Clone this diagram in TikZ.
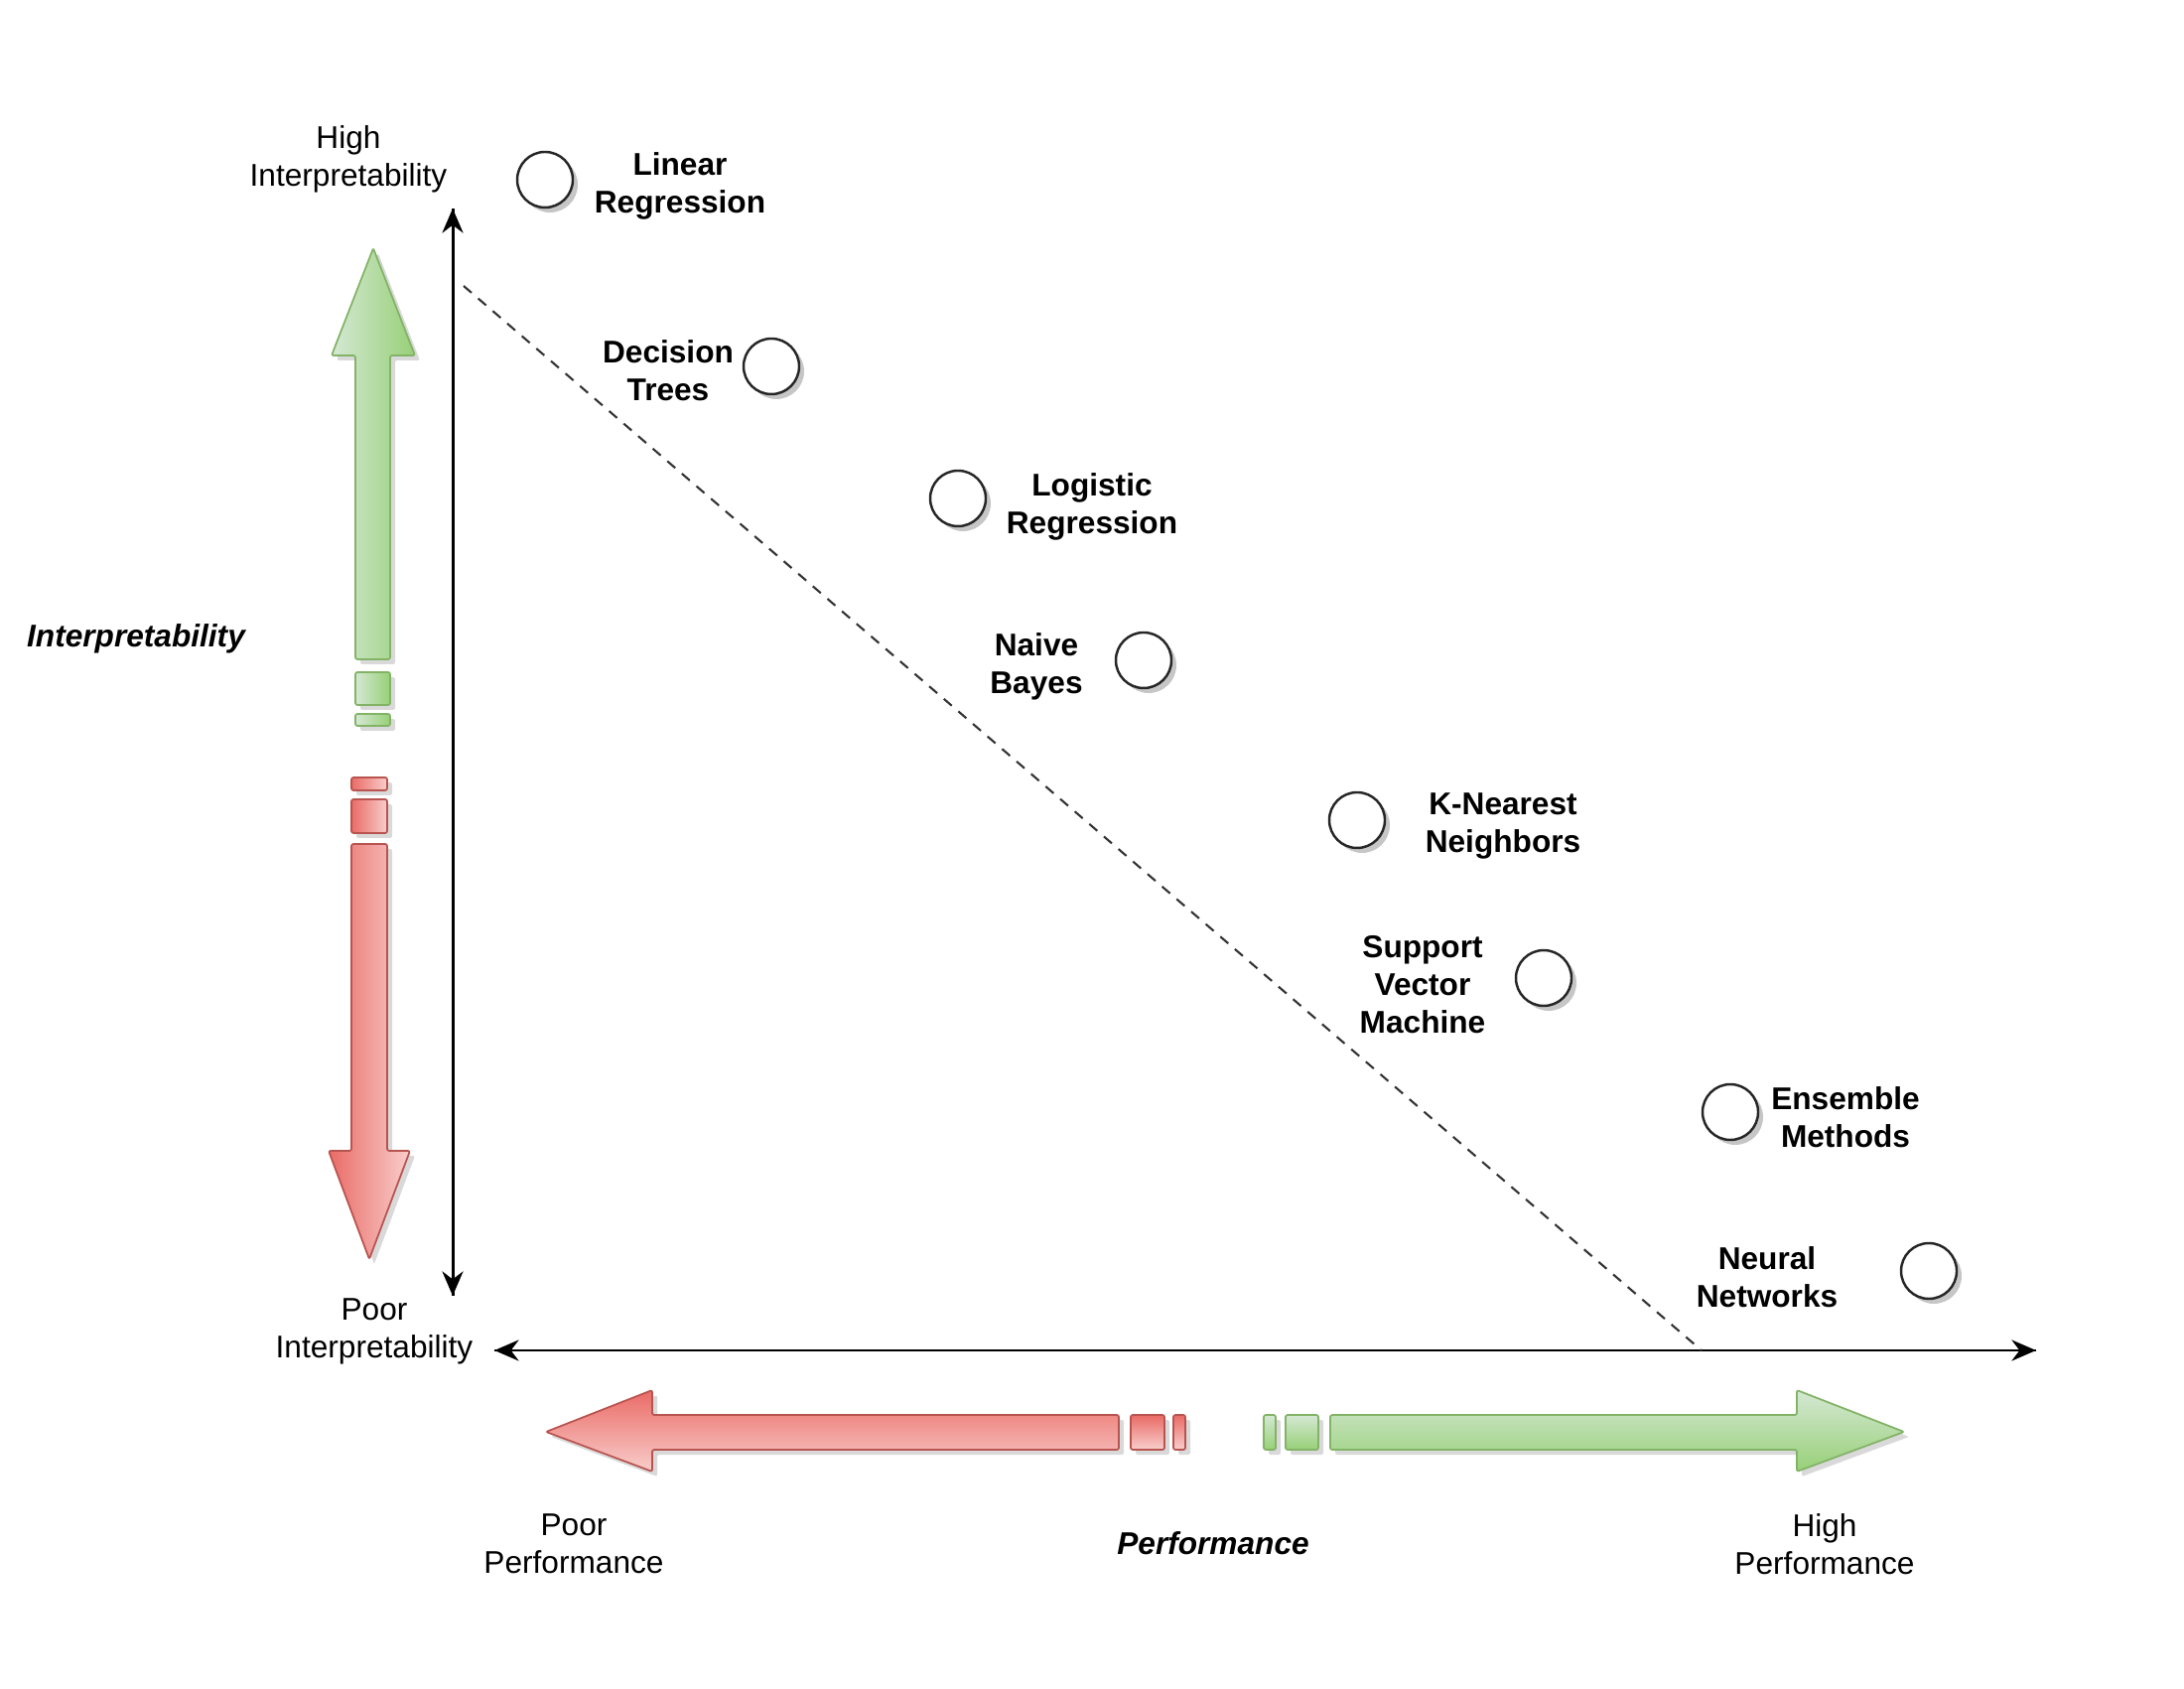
\documentclass[tikz,border=0pt]{standalone}
\usepackage{fontspec}
\setmainfont{Liberation Sans}
\usetikzlibrary{shadows,arrows.meta}

\definecolor{glight}{HTML}{D5E8D4}
\definecolor{gdark}{HTML}{97D077}
\definecolor{gline}{HTML}{82B366}
\definecolor{rlight}{HTML}{F8CECC}
\definecolor{rdark}{HTML}{EA6B66}
\definecolor{rline}{HTML}{B85450}

\begin{document}
\begin{tikzpicture}[
    font=\fontsize{9}{10.8}\selectfont,
    model/.style={circle, draw=black!85, line width=0.7pt, fill=white, minimum size=0.56cm, inner sep=0pt,
                  drop shadow={shadow xshift=0.05cm, shadow yshift=-0.05cm, opacity=0.45}},
    modeltext/.style={align=center, font=\fontsize{9}{10.8}\selectfont\bfseries},
    axislabel/.style={align=center},
    axis/.style={line width=0.85pt, -{Stealth[length=7pt, width=6pt]}},
    bigarrow/.style={line width=0.5pt, rounded corners=0.6pt,
                     drop shadow={shadow xshift=0.05cm, shadow yshift=-0.05cm, opacity=0.3}},
    greenarrow/.style={bigarrow, draw=gline},
    redarrow/.style={bigarrow, draw=rline}
  ]
    \useasboundingbox (0,0) rectangle (22,17);

    % 軸
    \coordinate (ytop) at (4.56, 14.90);
    \coordinate (ybot) at (4.56, 3.95);
    \coordinate (xleft) at (4.98, 3.40);
    \coordinate (xright) at (20.51, 3.40);
    \draw[axis] (ybot) -- (ytop);
    \draw[axis] (ytop) -- (ybot);
    \draw[axis] (xleft) -- (xright);
    \draw[axis] (xright) -- (xleft);

    % 境界線
    \coordinate (dashA) at (4.67, 14.12);
    \coordinate (dashB) at (17.14, 3.40);
    \draw[dash pattern=on 3pt off 2.5pt, line width=0.6pt, black!80] (dashA) -- (dashB);

    % 大きな矢印 (縦)
    \shade[greenarrow, left color=glight, right color=gdark]
      (3.76,14.50) -- (4.18,13.42) -- (3.93,13.42) -- (3.93,10.36) -- (3.58,10.36) -- (3.58,13.42) -- (3.34,13.42) -- cycle;
    \shade[greenarrow, left color=glight, right color=gdark] (3.58,10.23) rectangle (3.93,9.90);
    \shade[greenarrow, left color=glight, right color=gdark] (3.58,9.81) rectangle (3.93,9.69);

    \shade[redarrow, left color=rdark, right color=rlight] (3.54,9.17) rectangle (3.90,9.04);
    \shade[redarrow, left color=rdark, right color=rlight] (3.54,8.95) rectangle (3.90,8.61);
    \shade[redarrow, left color=rdark, right color=rlight]
      (3.54,8.50) -- (3.90,8.50) -- (3.90,5.41) -- (4.13,5.41) -- (3.72,4.32) -- (3.31,5.41) -- (3.54,5.41) -- cycle;

    % 大きな矢印 (横)
    \shade[redarrow, top color=rdark, bottom color=rlight]
      (5.50,2.58) -- (6.57,3.00) -- (6.57,2.75) -- (11.27,2.75) -- (11.27,2.40) -- (6.57,2.40) -- (6.57,2.18) -- cycle;
    \shade[redarrow, top color=rdark, bottom color=rlight] (11.39,2.75) rectangle (11.73,2.40);
    \shade[redarrow, top color=rdark, bottom color=rlight] (11.82,2.75) rectangle (11.94,2.40);

    \shade[greenarrow, top color=glight, bottom color=gdark] (12.73,2.75) rectangle (12.85,2.40);
    \shade[greenarrow, top color=glight, bottom color=gdark] (12.95,2.75) rectangle (13.28,2.40);
    \shade[greenarrow, top color=glight, bottom color=gdark]
      (13.40,2.75) -- (18.10,2.75) -- (18.10,3.00) -- (19.18,2.58) -- (18.10,2.18) -- (18.10,2.40) -- (13.40,2.40) -- cycle;

    % 軸ラベル
    \node[axislabel] (highint) at (3.51, 15.40) {High\\Interpretability};
    \node[axislabel] (poorint) at (3.77, 3.59) {Poor\\Interpretability};
    \node[axislabel, font=\fontsize{9}{10.8}\selectfont\bfseries\itshape] (interp) at (1.37, 10.57) {Interpretability};
    \node[axislabel] (poorperf) at (5.78, 1.45) {Poor\\Performance};
    \node[axislabel, font=\fontsize{9}{10.8}\selectfont\bfseries\itshape] (perf) at (12.22, 1.46) {Performance};
    \node[axislabel] (highperf) at (18.38, 1.45) {High\\Performance};

    % モデル
    \node[model] (linreg) at (5.49, 15.19) {};
    \node[model] (dtree) at (7.77, 13.31) {};
    \node[model] (logreg) at (9.65, 11.98) {};
    \node[model] (nbayes) at (11.52, 10.35) {};
    \node[model] (knn) at (13.67, 8.74) {};
    \node[model] (svm) at (15.55, 7.15) {};
    \node[model] (ensemble) at (17.43, 5.80) {};
    \node[model] (nnet) at (19.43, 4.20) {};

    % モデル名
    \node[modeltext] (linregtext) at (6.85, 15.13) {Linear\\Regression};
    \node[modeltext] (dtreetext) at (6.73, 13.27) {Decision\\Trees};
    \node[modeltext] (logregtext) at (11.00, 11.90) {Logistic\\Regression};
    \node[modeltext] (nbayestext) at (10.44, 10.29) {Naive\\Bayes};
    \node[modeltext] (knntext) at (15.14, 8.68) {K-Nearest\\Neighbors};
    \node[modeltext] (svmtext) at (14.33, 7.08) {Support\\Vector\\Machine};
    \node[modeltext] (ensembletext) at (18.59, 5.75) {Ensemble\\Methods};
    \node[modeltext] (nnettext) at (17.80, 4.14) {Neural\\Networks};
\end{tikzpicture}
\end{document}
